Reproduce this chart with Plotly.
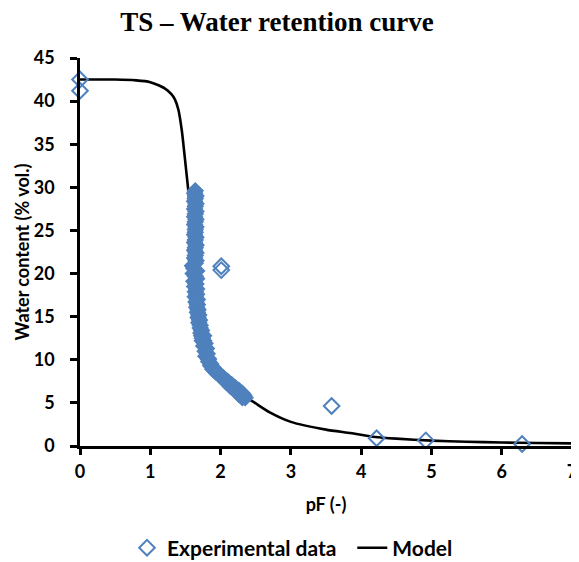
import plotly.graph_objects as go

# Experimental data (pF, water content % vol.) - isolated points
exp_pf_sparse = [0.0, 0.0, 2.01, 2.01, 3.58, 4.22, 4.92, 6.29]
exp_wc_sparse = [42.5, 41.2, 20.85, 20.4, 4.64, 0.9, 0.65, 0.23]

# Experimental data - dense measured series (overlapping markers)
exp_pf_dense = [
    1.64, 1.63, 1.65, 1.64, 1.63, 1.65, 1.64, 1.63, 1.65, 1.64, 1.63, 1.65, 1.64, 1.63, 1.65,
    1.64, 1.64, 1.63, 1.65, 1.64, 1.63, 1.65, 1.64, 1.63, 1.65, 1.64, 1.63, 1.65, 1.64,
    1.60, 1.62, 1.66, 1.61, 1.64, 1.66, 1.62, 1.65, 1.63, 1.66, 1.64, 1.66, 1.64, 1.67, 1.65,
    1.67, 1.66, 1.68, 1.67, 1.69, 1.68, 1.70, 1.69, 1.71, 1.71, 1.73, 1.72,
    1.73, 1.76, 1.74, 1.76, 1.74, 1.78, 1.76, 1.80, 1.78, 1.81, 1.79, 1.83, 1.83, 1.86, 1.86,
    1.89, 1.89, 1.92, 1.94, 1.98, 2.00, 2.04, 2.06, 2.10, 2.12, 2.16, 2.18, 2.21, 2.22, 2.26,
    2.27, 2.31, 2.33, 2.35, 1.95, 2.02, 2.08, 2.14, 2.20, 2.26, 2.31,
]
exp_wc_dense = [
    29.6, 29.3, 29.0, 28.7, 28.4, 28.1, 27.8, 27.5, 27.2, 26.9, 26.6, 26.3, 26.0, 25.7, 25.4,
    25.1, 24.8, 24.5, 24.2, 23.9, 23.6, 23.3, 23.0, 22.7, 22.4, 22.1, 21.8, 21.5, 21.2,
    20.9, 20.6, 20.3, 20.0, 19.7, 19.4, 19.1, 18.8, 18.5, 18.2, 17.9, 17.6, 17.3, 17.0, 16.7,
    16.4, 16.1, 15.8, 15.5, 15.2, 14.9, 14.6, 14.3, 14.0, 13.7, 13.4, 13.1,
    12.8, 12.8, 12.5, 12.2, 12.2, 11.9, 11.6, 11.3, 11.0, 10.7, 10.4, 10.1, 9.8, 9.5, 9.3,
    9.1, 8.9, 8.7, 8.5, 8.3, 8.1, 7.9, 7.7, 7.5, 7.3, 7.1, 6.9, 6.75, 6.6, 6.45,
    6.3, 6.1, 5.9, 5.6, 8.6, 8.0, 7.4, 6.9, 6.5, 6.0, 5.6,
]

# Model curve
model_pf = [0.0, 0.5, 0.8, 1.0, 1.1, 1.2, 1.3, 1.35, 1.4, 1.45, 1.48, 1.51, 1.54, 1.58, 1.62,
            1.66, 1.7, 1.8, 1.9, 2.0, 2.2, 2.45, 2.7, 3.0, 3.5, 3.85, 4.2, 4.5, 5.0, 5.5, 6.0, 6.5, 7.0]
model_wc = [42.5, 42.5, 42.4, 42.2, 41.9, 41.5, 40.8, 40.2, 39.0, 36.5, 34.3, 32.0, 29.7, 26.0, 21.5,
            18.0, 15.5, 11.6, 9.4, 8.0, 6.4, 5.2, 3.9, 2.8, 1.9, 1.5, 1.05, 0.85, 0.62, 0.5, 0.4, 0.35, 0.3]

x_ticks = [0, 1, 2, 3, 4, 5, 6, 7]
y_ticks = [0, 5, 10, 15, 20, 25, 30, 35, 40, 45]

blue = "#4F81BD"
sans = "Lato, Open Sans, sans-serif"
tick_font = dict(family=sans, size=18, color="black")

fig = go.Figure()
fig.add_trace(go.Scatter(
    x=model_pf, y=model_wc, mode="lines", name="<b>Model</b>", legendrank=2,
    line=dict(color="black", width=2.6, shape="spline", smoothing=0.6),
    cliponaxis=False,
))
fig.add_trace(go.Scatter(
    x=exp_pf_dense, y=exp_wc_dense, mode="markers", name="<b>Experimental data</b>",
    legendgroup="exp", showlegend=False,
    marker=dict(symbol="diamond", size=12, color=blue, line=dict(width=1.5, color=blue)),
    cliponaxis=False,
))
fig.add_trace(go.Scatter(
    x=exp_pf_sparse, y=exp_wc_sparse, mode="markers",
    name="<b>Experimental data</b>&nbsp;&nbsp;",
    legendgroup="exp", legendrank=1,
    marker=dict(symbol="diamond-open", size=12, color=blue, line=dict(width=2, color=blue)),
    cliponaxis=False,
))

fig.update_layout(
    width=571, height=554,
    margin=dict(l=72, r=7, t=50, b=116, autoexpand=False),
    paper_bgcolor="white", plot_bgcolor="white",
    title=dict(text="<b>TS – Water retention curve</b>", x=0.471, xanchor="center", y=0.975, yanchor="middle",
               font=dict(family="Liberation Serif, Times New Roman, serif", size=27, color="black")),
    showlegend=True,
    legend=dict(orientation="h", x=0.0955, xanchor="left", y=-0.263, yanchor="middle",
                font=dict(family=sans, size=21, color="black"),
                itemwidth=30, tracegroupgap=0, traceorder="normal"),
    font=dict(family=sans, color="black"),
)
fig.update_xaxes(
    range=[0, 7], tickvals=x_ticks, ticktext=[f"<b>{v}</b>" for v in x_ticks],
    showline=True, linecolor="black", linewidth=2.5, ticks="outside", ticklen=6, tickwidth=2.5,
    tickcolor="black", showgrid=False, zeroline=False, tickfont=tick_font,
    ticklabeloverflow="allow", ticklabelstandoff=2, automargin=False,
    title=dict(text="<b>pF (-)</b>", font=dict(family=sans, size=18, color="black"), standoff=18),
)
fig.update_yaxes(
    range=[0, 45], tickvals=y_ticks, ticktext=[f"<b>{v}</b>" for v in y_ticks],
    showline=True, linecolor="black", linewidth=2.5, ticks="outside", ticklen=7, tickwidth=2.5,
    tickcolor="black", showgrid=False, zeroline=False, tickfont=tick_font,
    ticklabeloverflow="allow", ticklabelstandoff=12, automargin=False,
    title=dict(text="<b>Water content (% vol.)</b>", font=dict(family=sans, size=18, color="black"), standoff=0),
)

fig.write_html("out.html", post_script="document.body.style.overflow='hidden';")
